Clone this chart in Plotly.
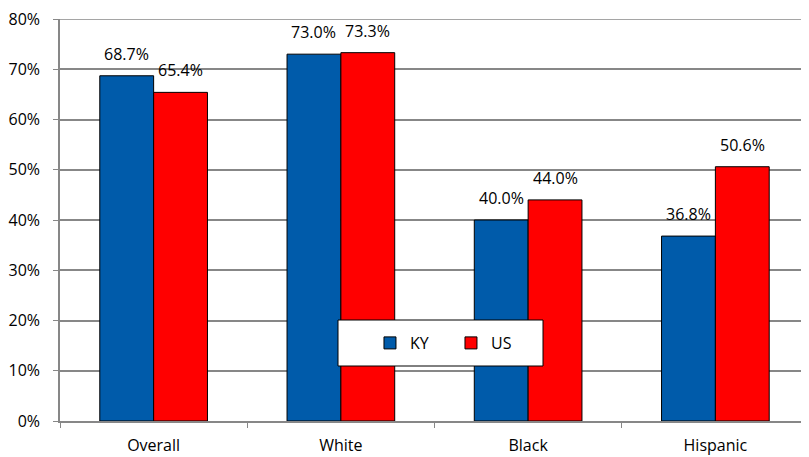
import plotly.graph_objects as go

categories = ["Overall", "White", "Black", "Hispanic"]
ky_values = [68.7, 73.0, 40.0, 36.8]
us_values = [65.4, 73.3, 44.0, 50.6]
y_ticks = [0, 10, 20, 30, 40, 50, 60, 70, 80]

blue = "#005BAA"
red = "#FF0000"
grid = "#878787"
font_family = "Open Sans, Noto Sans, sans-serif"
fsize = 16

fig = go.Figure()
fig.add_trace(go.Bar(name="KY", x=categories, y=ky_values,
                     marker=dict(color=blue, line=dict(color="black", width=1))))
fig.add_trace(go.Bar(name="US", x=categories, y=us_values,
                     marker=dict(color=red, line=dict(color="black", width=1))))

# value labels above each bar (Excel style, sitting a bit higher than plotly's outside text)
annotations = []
for series, shift in [(ky_values, -27), (us_values, 27)]:
    for cat, v in zip(categories, series):
        annotations.append(dict(x=cat, y=v, text=f"{v:.1f}%", showarrow=False,
                                xref="x", yref="y", xshift=shift, yshift=9,
                                yanchor="bottom",
                                font=dict(size=fsize, color="black", family=font_family)))

# page body has an 8px margin, so the figure is shrunk by that much
top, bottom = 11, 36
plot_h = 449 - top - bottom
plot_bottom = 8 + 449 - bottom  # in page pixels
fig.update_layout(
    width=801, height=449,
    margin=dict(l=52, r=0, t=top, b=bottom),
    plot_bgcolor="white", paper_bgcolor="white",
    barmode="group", bargap=0.425, bargroupgap=0,
    font=dict(family=font_family, size=fsize, color="black"),
    annotations=annotations,
    showlegend=True,
    legend=dict(orientation="h", x=0.522, y=(plot_bottom - 343) / plot_h,
                xanchor="center", yanchor="middle", bgcolor="rgba(0,0,0,0)",
                font=dict(size=fsize), entrywidth=36, itemwidth=30),
    shapes=[
        # top gridline sits on the plot edge and gets clipped, so draw it as a shape
        dict(type="line", xref="paper", yref="y", x0=0, x1=1,
             y0=max(y_ticks), y1=max(y_ticks), line=dict(color=grid, width=1.5),
             layer="below"),
        dict(type="rect", xref="paper", yref="paper",
             x0=(338 - 60) / 749, x1=(543 - 60) / 749,
             y0=(plot_bottom - 366) / plot_h, y1=(plot_bottom - 320) / plot_h,
             fillcolor="white", line=dict(color="black", width=1), layer="above"),
    ],
)
fig.update_yaxes(range=[0, 80], tickmode="array", tickvals=y_ticks,
                 ticktext=[f"{t}%" for t in y_ticks], showgrid=True,
                 ticklabeloverflow="allow",
                 gridcolor=grid, gridwidth=1.5, showline=True, linecolor=grid,
                 linewidth=1.5, ticks="outside", ticklen=5, tickcolor=grid,
                 ticklabelstandoff=10, zeroline=False, tickfont=dict(size=fsize),
                 automargin=False)
fig.update_xaxes(showline=True, linecolor=grid, linewidth=1.5, ticks="outside",
                 tickson="boundaries", ticklen=5, tickcolor=grid,
                 ticklabelstandoff=9, tickfont=dict(size=fsize), automargin=False)

fig.write_html("out.html")
